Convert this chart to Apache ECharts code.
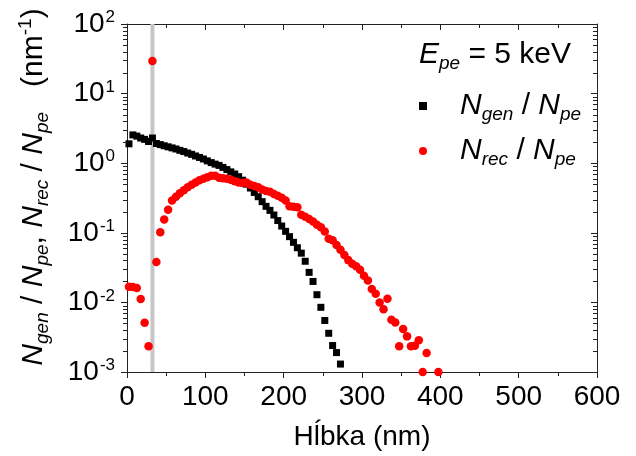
<!DOCTYPE html>
<html>
<head>
<meta charset="utf-8">
<script src="https://cdn.jsdelivr.net/npm/echarts@6/dist/echarts.min.js"></script>
<style>
  html, body { margin: 0; padding: 0; background: #fff; }
  #chart { width: 636px; height: 456px; }
</style>
</head>
<body>
<div id="chart"></div>
<script>
// Depth bins (nm) and generated-electron yield per primary electron
const depthGen = [2.5, 7.5, 12.5, 17.5, 22.5, 27.5, 32.5, 37.5, 42.5, 47.5,
  52.5, 57.5, 62.5, 67.5, 72.5, 77.5, 82.5, 87.5, 92.5, 97.5,
  102.5, 107.5, 112.5, 117.5, 122.5, 127.5, 132.5, 137.5, 142.5, 147.5,
  152.5, 157.5, 162.5, 167.5, 172.5, 177.5, 182.5, 187.5, 192.5, 197.5,
  202.5, 207.5, 212.5, 217.5, 222.5, 227.5, 232.5, 237.5, 242.5, 247.5,
  252.5, 257.5, 262.5, 267.5, 272.5];
const nGen = [1.9, 2.55, 2.45, 2.3, 2.2, 2.05, 2.3, 1.92, 1.85, 1.78,
  1.72, 1.66, 1.60, 1.53, 1.47, 1.40, 1.34, 1.27, 1.21, 1.15,
  1.08, 1.02, 0.97, 0.93, 0.87, 0.81, 0.75, 0.70, 0.64, 0.57,
  0.50, 0.44, 0.38, 0.33, 0.28, 0.24, 0.21, 0.18, 0.15, 0.125,
  0.105, 0.088, 0.073, 0.061, 0.051, 0.039, 0.027, 0.020, 0.0129, 0.0085,
  0.0055, 0.0036, 0.0024, 0.0019, 0.0013];

// Depth bins (nm) and recombined-electron yield per primary electron
const depthRec = [2.5, 7.5, 12.5, 17.5, 22.5, 27.5, 32.5, 37.5, 42.5, 47.5,
  52.5, 57.5, 62.5, 67.5, 72.5, 77.5, 82.5, 87.5, 92.5, 97.5,
  102.5, 107.5, 112.5, 117.5, 122.5, 127.5, 132.5, 137.5, 142.5, 147.5,
  152.5, 157.5, 162.5, 167.5, 172.5, 177.5, 182.5, 187.5, 192.5, 197.5,
  202.5, 207.5, 212.5, 217.5, 222.5, 227.5, 232.5, 237.5, 242.5, 247.5,
  252.5, 257.5, 262.5, 267.5, 272.5, 277.5, 282.5, 287.5, 292.5, 297.5,
  302.5, 307.5, 312.5, 317.5, 322.5, 327.5, 332.5, 337.5, 342.5, 347.5,
  352.5, 357.5, 362.5, 367.5, 372.5, 377.5, 382.5, 397.5];
const nRec = [0.0168, 0.0166, 0.0161, 0.0112, 0.0051, 0.00234, 29.4, 0.038, 0.102, 0.155,
  0.214, 0.29, 0.33, 0.37, 0.41, 0.45, 0.49, 0.53, 0.57, 0.60,
  0.63, 0.66, 0.66, 0.62, 0.61, 0.60, 0.58, 0.55, 0.53, 0.52,
  0.53, 0.49, 0.47, 0.45, 0.42, 0.40, 0.39, 0.36, 0.34, 0.32,
  0.29, 0.24, 0.236, 0.232, 0.181, 0.17, 0.158, 0.145, 0.13, 0.12,
  0.104, 0.082, 0.078, 0.067, 0.057, 0.048, 0.0405, 0.036, 0.033, 0.0294,
  0.0242, 0.0207, 0.0156, 0.0133, 0.0100, 0.0080, 0.0113, 0.00565, 0.00516, 0.00234,
  0.00415, 0.00325, 0.00234, 0.00239, 0.00285, 0.001, 0.00188, 0.001];

// Surface layer boundary (nm)
const surfaceDepth = [32.5];

// Axis ranges and tick values
const xRange = [0, 600];
const xStep = 100;
const yRange = [0.001, 100];
const yMinorTicks = [];
[-3, -2, -1, 0, 1].forEach(function (e) {
  for (let m = 2; m <= 9; m++) yMinorTicks.push(m * Math.pow(10, e));
});

const FONT = 'Liberation Sans, Arial, sans-serif';
const AXIS_COLOR = '#222';

const chart = echarts.init(document.getElementById('chart'), null, { renderer: 'canvas' });

function supLabel(v) {
  const e = Math.round(Math.log10(v));
  return '{b|10}{sup|' + e + '}';
}

const richMain = {
  n: { fontFamily: FONT, fontStyle: 'italic', fontSize: 30, color: '#000', lineHeight: 36 },
  s: { fontFamily: FONT, fontStyle: 'italic', fontSize: 19, color: '#000', lineHeight: 24, verticalAlign: 'bottom' },
  t: { fontFamily: FONT, fontSize: 30, color: '#000', lineHeight: 36 },
  p: { fontFamily: FONT, fontSize: 19, color: '#000', lineHeight: 24, verticalAlign: 'top' }
};

const option = {
  animation: false,
  backgroundColor: '#fff',
  grid: { left: 127, right: 39, top: 24, bottom: 84 },
  xAxis: [{
    type: 'value', min: xRange[0], max: xRange[1], interval: xStep,
    name: 'Hĺbka (nm)', nameLocation: 'middle', nameGap: 51,
    nameTextStyle: { fontFamily: FONT, fontSize: 28, color: '#000' },
    axisLine: { show: true, onZero: false, lineStyle: { color: AXIS_COLOR, width: 1 } },
    axisTick: { show: true, inside: false, length: 6, lineStyle: { color: AXIS_COLOR } },
    minorTick: { show: true, splitNumber: 2, length: 4, lineStyle: { color: AXIS_COLOR } },
    axisLabel: { margin: 11, fontFamily: FONT, fontSize: 28, color: '#000' },
    splitLine: { show: false }
  }, {
    type: 'value', position: 'top', min: xRange[0], max: xRange[1], interval: xStep,
    axisLine: { show: true, onZero: false, lineStyle: { color: AXIS_COLOR, width: 1 } },
    axisTick: { show: true, inside: true, length: 6, lineStyle: { color: AXIS_COLOR } },
    minorTick: { show: true, splitNumber: 2, length: 4, lineStyle: { color: AXIS_COLOR } },
    axisLabel: { show: false },
    splitLine: { show: false }
  }],
  yAxis: [{
    type: 'log', logBase: 10, min: yRange[0], max: yRange[1], splitNumber: 5,
    axisLine: { show: true, onZero: false, lineStyle: { color: AXIS_COLOR, width: 1 } },
    axisTick: { show: true, inside: false, length: 6, lineStyle: { color: AXIS_COLOR } },
    axisLabel: {
      margin: 12, formatter: supLabel,
      rich: {
        b: { fontFamily: FONT, fontSize: 28, color: '#000', lineHeight: 30 },
        sup: { fontFamily: FONT, fontSize: 17, color: '#000', lineHeight: 30, verticalAlign: 'top', padding: [0, 0, 10, 1] }
      }
    },
    splitLine: { show: false }
  }, {
    type: 'log', logBase: 10, position: 'right', min: yRange[0], max: yRange[1], splitNumber: 5,
    axisLine: { show: true, onZero: false, lineStyle: { color: AXIS_COLOR, width: 1 } },
    axisTick: { show: true, inside: true, length: 6, lineStyle: { color: AXIS_COLOR } },
    axisLabel: { show: false },
    splitLine: { show: false }
  }],
  legend: {
    orient: 'vertical', left: 414, top: 86, itemGap: 12,
    itemWidth: 8, itemHeight: 8,
    selectedMode: false,
    data: [{ name: 'gen', icon: 'rect' }, { name: 'rec', icon: 'circle' }],
    formatter: function (name) {
      return '{n|N}{s|' + name + '}{t| / }{n|N}{s|pe}';
    },
    textStyle: { padding: [0, 0, 0, 28], rich: richMain }
  },
  graphic: [{
    type: 'text', left: 419, top: 40,
    style: { text: '{n|E}{s|pe}{t| = 5 keV}', rich: richMain }
  }, {
    type: 'text', x: 34, y: 187, rotation: Math.PI / 2,
    style: {
      text: '{n|N}{s|gen}{t| / }{n|N}{s|pe}{t|, }{n|N}{s|rec}{t| / }{n|N}{s|pe}{t|   (nm}{p|-1}{t|)}',
      align: 'center', verticalAlign: 'middle', rich: richMain
    }
  }],
  series: [{
    name: 'surface', type: 'line', xAxisIndex: 0, yAxisIndex: 0, z: 1,
    data: [[surfaceDepth[0], yRange[0]], [surfaceDepth[0], yRange[1]]],
    symbol: 'none', silent: true,
    lineStyle: { color: '#c6c6c6', width: 4 }
  }, {
    name: 'minorTicks', type: 'custom', xAxisIndex: 0, yAxisIndex: 0, z: 5, silent: true, clip: false,
    data: yMinorTicks.map(function (v) { return [xRange[0], v]; }),
    encode: { x: 0, y: 1 },
    renderItem: function (params, api) {
      const v = api.value(1);
      const pL = api.coord([xRange[0], v]);
      const pR = api.coord([xRange[1], v]);
      const y = Math.round(pL[1]) + 0.5;
      return {
        type: 'group',
        children: [
          { type: 'line', shape: { x1: pL[0] - 4, y1: y, x2: pL[0], y2: y }, style: { stroke: AXIS_COLOR, lineWidth: 1 } },
          { type: 'line', shape: { x1: pR[0] - 4, y1: y, x2: pR[0], y2: y }, style: { stroke: AXIS_COLOR, lineWidth: 1 } }
        ]
      };
    }
  }, {
    name: 'gen', type: 'scatter', xAxisIndex: 0, yAxisIndex: 0, z: 3,
    symbol: 'rect', symbolSize: 7,
    itemStyle: { color: '#000', opacity: 1 },
    data: depthGen.map(function (d, i) { return [d, nGen[i]]; })
  }, {
    name: 'rec', type: 'scatter', xAxisIndex: 0, yAxisIndex: 0, z: 4,
    symbol: 'circle', symbolSize: 8.5,
    itemStyle: { color: '#ff0000', opacity: 1 },
    data: depthRec.map(function (d, i) { return [d, nRec[i]]; })
  }]
};

chart.setOption(option);
</script>
</body>
</html>
